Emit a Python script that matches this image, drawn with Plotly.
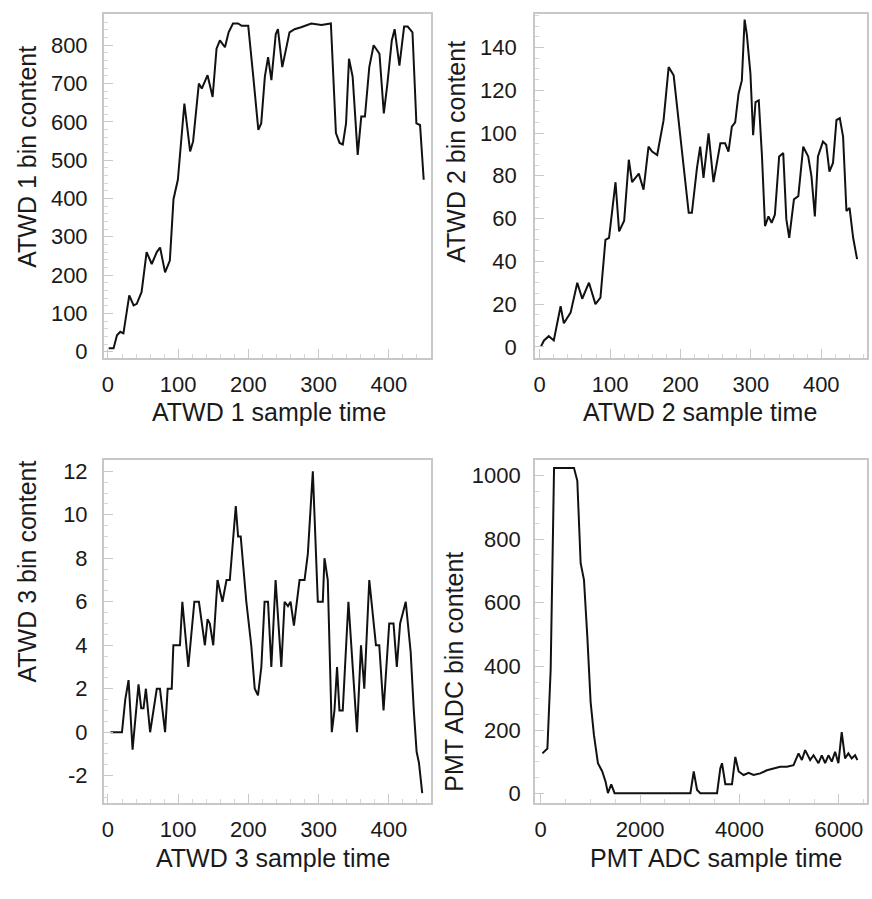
import plotly.graph_objects as go

# ---------------- data ----------------
atwd1_t = [1, 8, 12.8, 17.5, 22, 30.3, 36.5, 41, 47.9, 55, 62.3, 69.5, 74.2, 81.3, 88.1, 93.3, 99.5,
           104.7, 108.8, 117, 121.2, 129.4, 133.6, 141.8, 149, 154.6, 159.4, 166.6, 171.8, 178, 185.2,
           190.4, 199.7, 206.9, 214.1, 218.2, 223.4, 228, 232.7, 238.9, 242, 248.2, 254.4, 258.5, 265.7,
           275, 289.5, 304, 317.4, 322.5, 324.6, 329.8, 334.4, 339, 343.2, 348.4, 355.6, 360.7, 365.9,
           372.1, 378.3, 386.6, 392.8, 397.9, 404.1, 408.2, 415, 421.7, 426.8, 433.6, 439.2, 444.4, 449.6]
atwd1_v = [9, 9, 43, 52, 48, 147, 121, 125, 156, 260, 229, 260, 272, 207, 238, 398, 449,
           571, 648, 523, 549, 700, 687, 722, 665, 791, 813, 795, 834, 857, 857,
           851, 851, 718, 579, 596, 718, 769, 709, 829, 842, 743, 795, 834, 842,
           847, 857, 853, 857, 674, 571, 545, 541, 596, 765, 718, 514, 614, 614,
           743, 800, 778, 622, 700, 812, 842, 747, 849, 849, 834, 596, 592, 449]

atwd2_t = [1.5, 6.1, 12.9, 20, 29.7, 34.3, 43.9, 53.4, 60.4, 70, 79.2, 86.3, 93.4, 98.5, 107.7, 112.8,
           120, 126.6, 131.2, 140.8, 147.5, 154.6, 159.7, 166.9, 176, 183.2, 190.3, 199.5, 206.6, 211.7,
           216.2, 223.4, 228, 232.7, 239.9, 246.9, 256.6, 263.4, 268.2, 273, 277.7, 282.5, 287.2, 291.1,
           294.3, 299.4, 303.2, 306.6, 311.2, 315.8, 320.1, 325, 329.5, 334.1, 340.2, 346, 350.4, 354.5,
           361.2, 367.4, 374.4, 381.5, 386.1, 390.9, 395.3, 402.4, 407.1, 411.6, 416.7, 421.6, 426.3, 431,
           435.8, 440.2, 445.3, 450.9]
atwd2_v = [0, 3, 5, 3, 19, 11, 16, 30, 22.5, 30, 20, 23, 50, 51, 77, 54,
           59, 87.5, 77, 81, 73.5, 93.6, 91.3, 89.7, 106, 130.8, 127, 98.3, 77, 62.7,
           62.7, 83.6, 93.6, 79, 99.8, 77, 95.2, 95.2, 91.3, 103, 105, 118.4, 124.6, 153,
           146, 127.7, 99, 114.5, 115.3, 89, 56.5, 61, 58, 61.8, 89, 90.6, 59.6, 51,
           69, 70.5, 93.6, 89, 79.7, 61, 89, 96, 94.5, 82, 86, 106, 107, 98.3,
           63.5, 65, 51, 41]

atwd3_t = [3.3, 19.9, 24.6, 29.3, 35, 43.5, 47.3, 50.6, 54, 60, 69.5, 74, 81.3, 85, 90.8, 93.1, 102.5,
           105.9, 114.4, 123, 129.5, 138, 141.8, 145, 149.9, 156, 163, 168.8, 173.5, 178.2, 182, 185.3,
           189, 197, 204, 209, 213.6, 218.4, 223, 227.9, 232.6, 238.7, 246.8, 251.5, 256.3, 260, 264.8,
           272.8, 279.9, 284.6, 291.7, 298.8, 305.9, 308.3, 313, 318.7, 322.5, 326.2, 329.6, 334.3, 342.4,
           348.5, 354.6, 360.3, 365, 372.1, 381.6, 386.3, 392.4, 400.5, 406.6, 411.3, 416, 424, 431,
           435.5, 439.5, 442.8, 447.5]
atwd3_v = [0, 0, 1.5, 2.4, -0.8, 2.2, 1.1, 1.1, 2, 0, 2, 2, 0, 2, 2, 4, 4,
           6, 3, 6, 6, 4, 5.2, 5, 4, 7, 6, 7, 7, 9, 10.4, 9,
           9, 6, 4, 2, 1.7, 3, 6, 6, 3, 7, 3, 6, 5.8, 6, 4.9,
           7, 7, 8.2, 12, 6, 6, 8, 7, 0, 1, 3, 1, 1, 6,
           3, 0, 4, 2, 7, 4, 4, 1, 5, 5, 3, 5, 6, 3.7,
           1, -0.9, -1.4, -2.8]

pmt_t = [34, 134, 200, 268, 669, 736, 803, 870, 937, 1004, 1071, 1151, 1238, 1305, 1352, 1419, 1486,
         3012, 3079, 3146, 3213, 3548, 3614, 3648, 3715, 3849, 3916, 3983, 4083, 4183, 4284, 4418,
         4552, 4685, 4819, 4953, 5087, 5188, 5255, 5321, 5422, 5489, 5589, 5656, 5723, 5790, 5857,
         5924, 5990, 6057, 6124, 6191, 6258, 6325, 6372]
pmt_v = [127, 142, 391, 1023, 1023, 983, 724, 672, 495, 288, 184, 96, 70, 38, 2, 30, 2,
         2, 70, 12, 2, 2, 80, 96, 30, 30, 116, 70, 59, 66, 59, 64,
         74, 80, 85, 85, 90, 127, 106, 137, 106, 121, 96, 121, 96, 121, 101,
         132, 96, 194, 111, 127, 111, 121, 106]

atwd3_tickvals = [-2, 0, 2, 4, 6, 8, 10, 12]
atwd3_ticktext = ["-2", "0", "2", "4", "6", "8", "10", "12"]

x_titles = ["ATWD 1 sample time", "ATWD 2 sample time", "ATWD 3 sample time", "PMT ADC sample time"]
y_titles = ["ATWD 1 bin content", "ATWD 2 bin content", "ATWD 3 bin content", "PMT ADC bin content"]

# ---------------- layout helpers ----------------
W, H = 872, 899
FONT = "Liberation Sans, Arial, Helvetica, sans-serif"
TXT = "#1a1a1a"
FRAME = "#c8c8c8"
TICK_SIZE = 22
TITLE_SIZE = 25


def px_x(p):
    return p / W


def px_y(p):
    return 1 - p / H


def axis(domain, rng, dtick, mdtick, standoff=6):
    return dict(
        domain=domain, range=rng, autorange=False,
        showgrid=False, zeroline=False,
        showline=True, mirror=True, linecolor=FRAME, linewidth=1.5,
        ticks="inside", ticklen=9, tickwidth=1, tickcolor=FRAME,
        tick0=0, dtick=dtick,
        minor=dict(ticks="inside", ticklen=4, tickcolor="#d6d6d6", dtick=mdtick, tick0=0, showgrid=False),
        tickfont=dict(family=FONT, size=TICK_SIZE, color=TXT),
        ticklabelstandoff=standoff,
    )


xd_left = [px_x(102), px_x(430)]
xd_right = [px_x(534), px_x(867)]
yd_top = [px_y(360), px_y(13)]
yd_bot = [px_y(808), px_y(463)]

fig = go.Figure()
line = dict(color="#111111", width=2)
fig.add_trace(go.Scatter(x=atwd1_t, y=atwd1_v, mode="lines", line=line, xaxis="x", yaxis="y"))
fig.add_trace(go.Scatter(x=atwd2_t, y=atwd2_v, mode="lines", line=line, xaxis="x2", yaxis="y2"))
fig.add_trace(go.Scatter(x=atwd3_t, y=atwd3_v, mode="lines", line=line, xaxis="x3", yaxis="y3"))
fig.add_trace(go.Scatter(x=pmt_t, y=pmt_v, mode="lines", line=line, xaxis="x4", yaxis="y4"))

ann = []
xt_pos = [(268, 414), (700, 414), (272, 864), (716, 864)]
yt_pos = [(25, 157), (455, 152), (25, 575), (453, 676)]
for t, (x, y) in zip(x_titles, xt_pos):
    ann.append(dict(text=t, x=px_x(x), y=px_y(y), xref="paper", yref="paper", showarrow=False,
                    xanchor="center", yanchor="middle", font=dict(family=FONT, size=TITLE_SIZE, color=TXT)))
for t, (x, y) in zip(y_titles, yt_pos):
    ann.append(dict(text=t, x=px_x(x), y=px_y(y), xref="paper", yref="paper", showarrow=False,
                    textangle=-90, xanchor="center", yanchor="middle",
                    font=dict(family=FONT, size=TITLE_SIZE, color=TXT)))

y3 = axis(yd_bot, [-3.24, 12.5], 2, 0.5, standoff=10)
y3.update(tickmode="array", tickvals=atwd3_tickvals, ticktext=atwd3_ticktext)

fig.update_layout(
    width=W, height=H, margin=dict(l=0, r=0, t=0, b=0),
    paper_bgcolor="white", plot_bgcolor="white", showlegend=False,
    xaxis=dict(axis(xd_left, [-6, 460], 100, 20), anchor="y"),
    yaxis=dict(axis(yd_top, [-17, 882], 100, 20, standoff=10), anchor="x"),
    xaxis2=dict(axis(xd_right, [-7, 465], 100, 20), anchor="y2"),
    yaxis2=dict(axis(yd_top, [-5.3, 155.7], 20, 5, standoff=12), anchor="x2"),
    xaxis3=dict(axis(xd_left, [-6, 460], 100, 20), anchor="y3"),
    yaxis3=dict(y3, anchor="x3"),
    xaxis4=dict(axis(xd_right, [-120, 6566], 2000, 500), anchor="y4"),
    yaxis4=dict(axis(yd_bot, [-28, 1047], 200, 50, standoff=8), anchor="x4"),
    annotations=ann,
)

fig.write_html("out.html")
